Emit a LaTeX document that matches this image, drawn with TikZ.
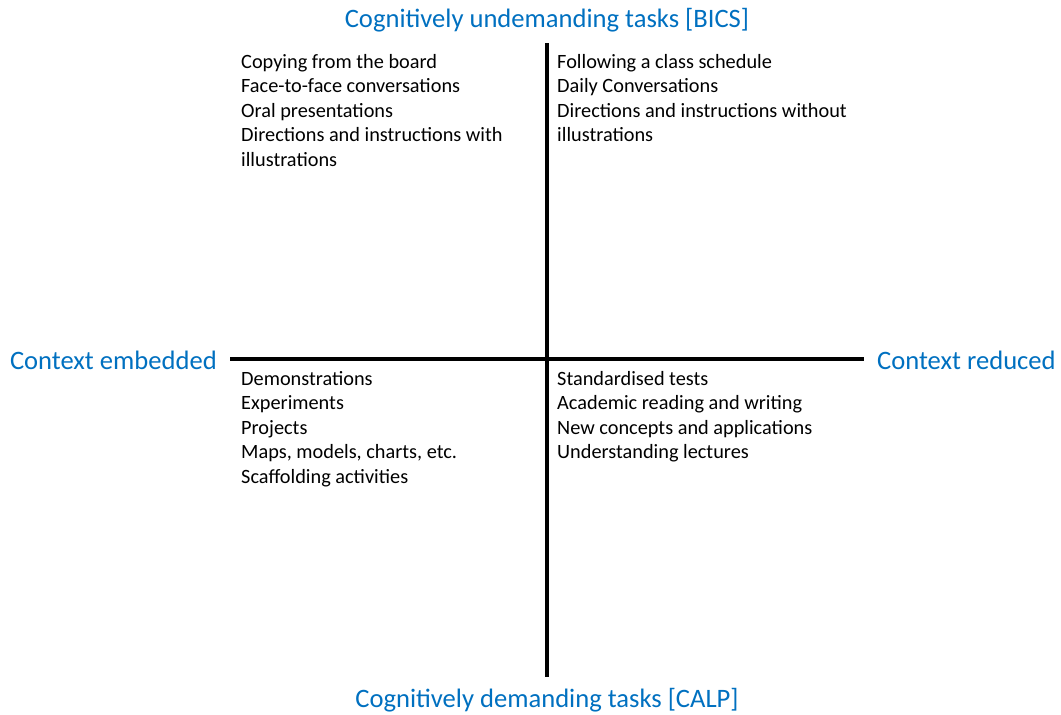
\documentclass[tikz,border=0pt]{standalone}
\usepackage{fontspec}
\setmainfont{Carlito}
\definecolor{axisblue}{HTML}{0070C0}

\begin{document}
\begin{tikzpicture}[x=1pt, y=-1pt,
        axislabel/.style={text=axisblue, inner sep=0, font=\fontsize{26.6}{31}\selectfont},
        tasklist/.style={anchor=north west, align=left, inner sep=0, font=\fontsize{20.3}{24.5}\selectfont}]
        \useasboundingbox (0,0) rectangle (1061,715);

        \coordinate (T) at (547, 43);
        \coordinate (B) at (547, 677);
        \coordinate (L) at (230, 359);
        \coordinate (R) at (864, 359);
        \draw[line width=4] (T) to (B);
        \draw[line width=4] (L) to (R);

        \node[axislabel] (A1) at (547, 20) {Cognitively undemanding tasks [BICS]};
        \node[axislabel] (A2) at (547, 700) {Cognitively demanding tasks [CALP]};
        \node[axislabel, anchor=east] (A3) at (217, 360) {Context embedded};
        \node[axislabel, anchor=west] (A4) at (877, 360) {Context reduced};

        \node[tasklist] (Q1) at (241, 54) {Copying from the board\\Face-to-face conversations\\Oral presentations\\Directions and instructions with\\illustrations};
        \node[tasklist] (Q2) at (557, 54) {Following a class schedule\\Daily Conversations\\Directions and instructions without\\illustrations};
        \node[tasklist] (Q3) at (241, 371) {Demonstrations\\Experiments\\Projects\\Maps, models, charts, etc.\\Scaffolding activities};
        \node[tasklist] (Q4) at (557, 371) {Standardised tests\\Academic reading and writing\\New concepts and applications\\Understanding lectures};
    \end{tikzpicture}
\end{document}
